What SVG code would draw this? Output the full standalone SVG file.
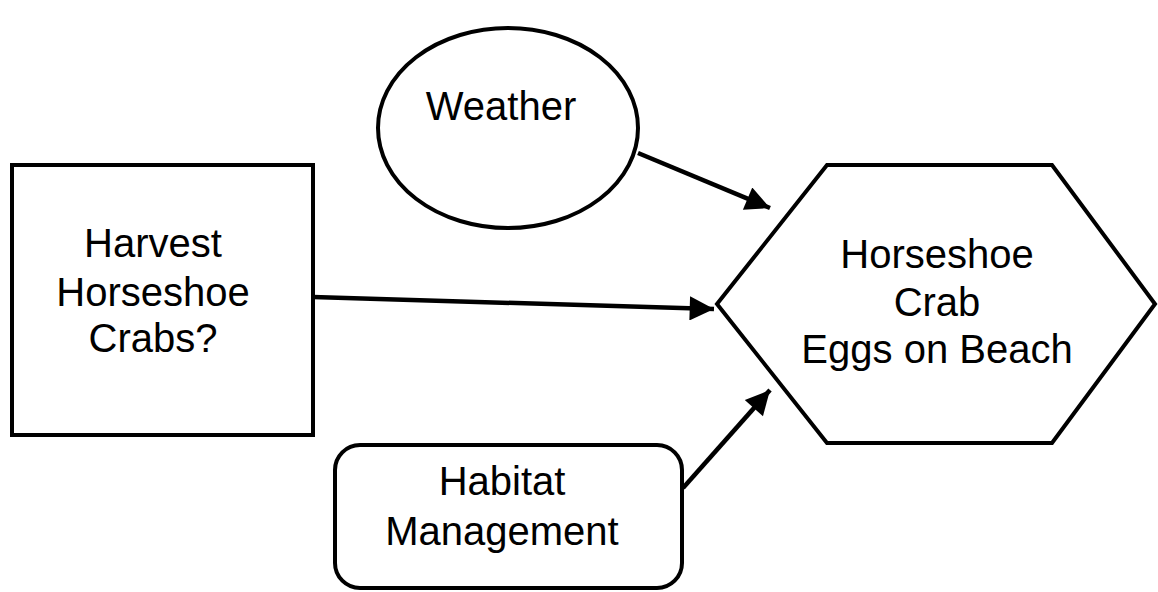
<svg xmlns="http://www.w3.org/2000/svg" width="1158" height="592" viewBox="0 0 1158 592">
<style>
.shape{fill:#fff;stroke:#000;stroke-width:4}
.lbl{font-family:"Liberation Sans",Arial,sans-serif;font-size:40px;fill:#000;text-anchor:middle}
.edge{stroke:#000;stroke-width:4.5;fill:none}
</style>
<defs>
<marker id="arr" viewBox="0 0 10 10" refX="10" refY="5" markerWidth="6.2" markerHeight="5.4" markerUnits="strokeWidth" orient="auto">
<path d="M0,0 L10,5 L0,10 Z" fill="#000"/>
</marker>
</defs>
<rect width="1158" height="592" fill="#fff"/>
<g id="weather">
<ellipse class="shape" cx="508" cy="128" rx="130" ry="100"/>
<text class="lbl" x="501" y="120">Weather</text>
</g>
<g id="harvest">
<rect class="shape" x="12" y="165" width="301" height="270"/>
<text class="lbl" x="153" y="257">Harvest</text>
<text class="lbl" x="153" y="306">Horseshoe</text>
<text class="lbl" x="153" y="352">Crabs?</text>
</g>
<g id="eggs">
<polygon class="shape" points="717,304 827,165 1052,165 1155,304 1052,443 827,443"/>
<text class="lbl" x="937" y="268">Horseshoe</text>
<text class="lbl" x="937" y="316">Crab</text>
<text class="lbl" x="937" y="363">Eggs on Beach</text>
</g>
<g id="habitat">
<rect class="shape" x="335" y="445" width="347" height="143" rx="25" ry="25"/>
<text class="lbl" x="502" y="495">Habitat</text>
<text class="lbl" x="502" y="545">Management</text>
</g>
<g id="connectors">
<line class="edge" x1="638" y1="153" x2="770" y2="208" marker-end="url(#arr)"/>
<line class="edge" x1="313" y1="297" x2="714" y2="309" marker-end="url(#arr)"/>
<line class="edge" x1="683" y1="488" x2="770" y2="390" marker-end="url(#arr)"/>
</g>
</svg>
